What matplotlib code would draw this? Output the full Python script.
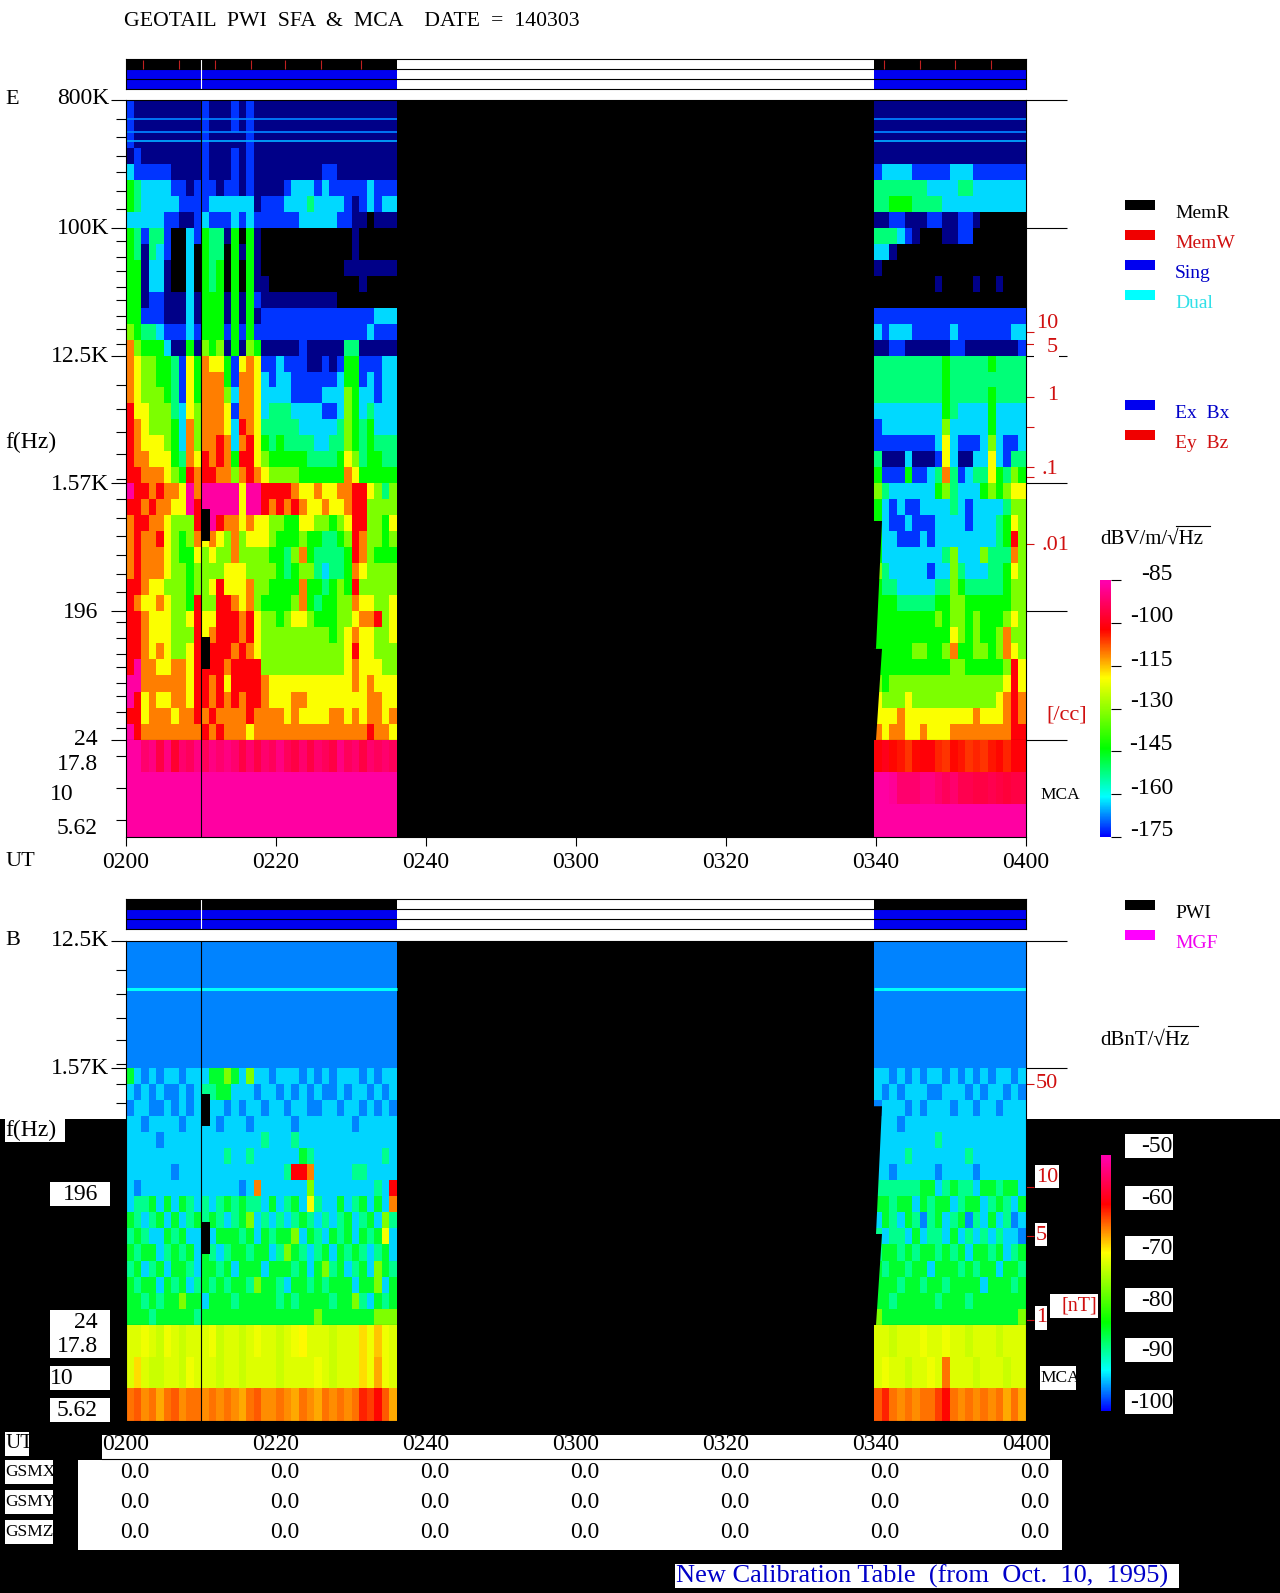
import numpy as np
import matplotlib
matplotlib.use("Agg")
import matplotlib.pyplot as plt
from matplotlib.colors import LinearSegmentedColormap, Normalize
from matplotlib.patches import Rectangle
from matplotlib.lines import Line2D

plt.rcParams['font.family'] = ['Liberation Serif', 'DejaVu Sans']

W, H = 1280, 1593

# ---------------- data -----------------------------------------------------
TIME_LABELS = ['0200', '0220', '0240', '0300', '0320', '0340', '0400']
TIME_TICKS = [0, 20, 40, 60, 80, 100, 120]
SEG_LEFT = (0.0, 36.1)
SEG_RIGHT = (99.75, 120.0)
E_BANDS = [800000, 100000, 12500, 1570, 196, 24]
B_BANDS = [12500, 1570, 196, 24]
MINOR_F = [587000, 439000, 322000, 248000, 183000, 136000,
           81000, 62400, 49700, 38300, 31000, 23900, 19400, 15200,
           7800, 5270, 3580, 2500, 1690,
           1210, 890, 662, 488, 358, 267,
           164, 126, 97.5, 79, 61, 49, 38, 29.3]
# colour level -> dB, for the two panels
E_LEVEL_DB = [-190, -182, -172, -163, -152, -144, -132, -120, -111, -102, -87]
B_LEVEL_DB = [-108, -104, -96, -93.5, -88, -84.5, -76, -69.5, -64.5, -59.5, -51]

E_L1 = [
 [2,1,1,1,1,1, 1,1,1,1,2,1, 1,1,2,1,2,1, 1,1,1,1,1,1, 1,1,1,1,1,1, 1,1,1,1,1,1],
 [2,1,1,1,1,1, 1,1,1,1,2,1, 1,1,2,1,2,1, 1,1,1,1,1,1, 1,1,1,1,1,1, 1,1,1,1,1,1],
 [2,1,1,1,1,1, 1,1,1,1,2,1, 1,1,1,1,2,1, 1,1,1,1,1,1, 1,1,1,1,1,1, 1,1,1,1,1,1],
 [1,2,1,1,1,1, 1,1,1,1,2,1, 1,1,2,1,2,1, 1,1,1,1,1,1, 1,1,1,1,1,1, 1,1,1,1,1,1],
 [3,2,2,2,2,2, 1,1,1,1,2,1, 1,1,2,1,2,1, 1,1,1,1,1,1, 1,1,2,2,1,1, 1,1,1,1,1,1],
 [5,4,3,3,3,3, 2,2,1,2,2,2, 1,2,2,1,2,1, 1,1,1,2,3,3, 3,2,3,2,2,2, 2,2,3,2,2,2],
 [5,4,3,3,3,3, 3,2,2,2,2,3, 3,3,3,3,3,1, 2,2,2,3,3,3, 4,3,3,3,3,2, 1,2,3,2,3,3],
 [3,3,3,3,3,2, 2,1,1,2,3,2, 2,2,3,2,3,2, 2,2,2,2,2,3, 3,3,3,3,2,2, 1,1,0,1,1,1],
]
E_L2 = [
 [5,4,2,4,4,2, 0,0,3,2,5,4, 4,1,5,0,5,1, 0,0,0,0,0,0, 0,0,0,0,0,0, 1,0,0,0,0,0],
 [5,4,1,4,3,2, 0,0,3,0,5,4, 4,0,5,1,5,1, 0,0,0,0,0,0, 0,0,0,0,0,0, 1,0,0,0,0,0],
 [5,5,1,3,3,1, 0,0,3,0,5,4, 5,0,5,0,5,1, 0,0,0,0,0,0, 0,0,0,0,0,1, 1,1,1,1,1,1],
 [5,5,1,3,3,1, 0,0,3,0,5,4, 5,0,5,0,5,1, 1,0,0,0,0,0, 0,0,0,0,0,0, 0,1,0,0,0,0],
 [5,5,1,2,2,1, 1,1,3,1,5,5, 5,1,5,1,5,2, 1,1,1,1,1,1, 1,1,1,1,0,0, 0,0,0,0,0,0],
 [5,5,2,2,2,1, 1,1,3,1,5,5, 5,1,5,1,5,1, 2,2,2,2,2,2, 2,2,2,2,2,2, 2,2,2,3,3,3],
 [6,5,4,4,3,2, 2,2,3,2,5,5, 5,2,5,2,5,2, 2,2,2,2,2,2, 2,2,2,2,2,2, 2,2,3,2,2,2],
 [8,6,5,5,5,3, 1,1,5,1,6,5, 6,1,5,1,6,5, 1,1,1,1,1,2, 1,1,1,1,1,4, 4,1,1,1,1,1],
]
E_L3 = [
 [8,7,6,6,5,5, 4,2,7,5,8,7, 7,5,2,7,8,7, 2,2,3,2,2,2, 1,1,2,1,2,5, 5,2,2,2,3,3],
 [8,7,6,6,5,5, 4,2,7,5,8,8, 8,5,2,8,8,7, 3,2,3,3,2,2, 2,2,2,2,3,5, 5,2,3,2,3,3],
 [8,7,6,6,6,5, 4,2,7,5,8,8, 8,6,3,8,8,7, 3,3,3,3,2,2, 2,2,3,3,3,6, 5,3,3,2,3,3],
 [9,7,7,6,6,6, 4,3,7,6,8,8, 8,7,2,8,8,7, 3,4,4,4,3,3, 3,3,2,2,3,6, 5,3,4,3,3,3],
 [9,8,7,6,6,6, 5,3,8,6,8,8, 8,7,3,9,8,7, 4,4,4,4,4,3, 3,3,3,3,4,6, 5,4,5,3,3,3],
 [9,8,7,7,7,6, 5,3,8,6,8,8, 9,8,3,8,9,7, 5,4,5,4,4,4, 4,3,3,4,4,6, 5,4,5,4,4,4],
 [9,8,8,7,7,7, 5,4,8,7,9,8, 9,8,5,9,9,7, 6,5,5,5,5,5, 4,4,4,4,5,7, 6,4,5,5,4,4],
 [9,9,8,8,8,7, 6,5,9,8,9,9, 8,8,6,8,9,8, 7,6,6,6,6,5, 5,5,5,5,5,8, 7,5,5,5,5,5],
]
E_L4 = [
 [10,9,9,8,9,8, 8,7,10,8,10,10, 10,10,10,7,10,10, 9,9,9,9,8,7, 7,8,7,7,8,8, 9,9,7,6,4,6],
 [9,9,8,9,8,8, 7,7,10,9,10,10, 10,10,10,7,10,10, 9,8,9,8,9,8, 7,7,8,7,7,8, 9,9,6,6,6,6],
 [8,9,9,8,8,7, 6,6,6,9,8,10, 9,8,8,7,8,7, 7,6,6,5,5,7, 7,6,6,5,6,7, 9,9,6,6,5,7],
 [8,9,8,8,9,7, 6,5,6,8,7,8, 7,6,8,6,7,7, 7,6,5,5,5,6, 5,5,4,4,5,6, 9,8,6,6,5,6],
 [8,9,8,8,8,7, 6,5,5,7,6,7, 6,6,8,6,6,6, 6,5,5,4,6,8, 5,4,4,4,4,5, 9,8,6,5,5,5],
 [8,9,8,8,8,7, 6,6,5,6,6,6, 6,7,7,7,6,6, 6,6,5,4,5,6, 6,4,3,4,4,5, 8,7,6,6,6,6],
 [9,9,8,7,7,6, 6,6,5,6,6,7, 9,7,7,7,8,6, 6,5,5,5,5,8, 5,5,4,5,6,5, 9,6,6,6,6,6],
 [9,8,7,7,8,7, 6,6,5,9,6,6, 9,9,8,7,8,6, 5,5,5,5,6,8, 5,4,5,5,6,6, 8,7,7,6,6,7],
]
E_L5 = [
 [9,9,8,7,7,7, 6,6,7,9,7,7, 9,9,9,8,9,7, 6,6,5,6,7,7, 6,5,5,5,6,6, 7,8,8,9,6,7],
 [9,9,8,7,7,7, 6,6,6,9,7,8, 9,9,9,8,9,7, 6,6,6,6,6,6, 6,6,6,5,6,7, 8,7,7,6,6,7],
 [9,9,8,7,8,7, 6,6,7,9,9,9, 9,9,8,9,8,7, 6,6,6,6,6,6, 6,6,6,6,6,7, 9,7,7,6,6,6],
 [9,10,8,8,7,7, 8,8,7,9,9,9, 9,8,9,9,9,9, 6,6,6,6,6,6, 6,6,6,6,6,7, 8,7,7,7,6,6],
 [10,10,8,8,8,8, 8,8,7,9,9,8, 9,7,9,9,9,9, 8,7,7,7,7,7, 7,7,7,7,7,7, 8,7,8,7,7,7],
 [10,9,7,8,7,7, 8,8,7,9,9,8, 9,8,9,8,9,9, 8,7,7,7,8,8, 7,7,7,7,7,7, 7,7,8,8,7,7],
 [9,9,7,8,8,8, 7,8,8,9,8,9, 8,8,8,8,9,8, 8,8,8,7,8,7, 7,7,7,8,8,7, 8,7,8,8,7,8],
 [10,9,8,8,8,8, 8,8,8,8,9,8, 9,8,8,8,7,8, 8,8,8,8,8,8, 8,8,8,8,8,8, 8,8,9,8,8,7],
]
E_R1 = [
 [1,1,1,1,1, 1,1,1,1,1, 1,1,1,1,1, 1,1,1,1,1],
 [1,1,1,1,1, 1,1,1,1,1, 1,1,1,1,1, 1,1,1,1,1],
 [1,1,1,1,1, 1,1,1,1,1, 1,1,1,1,1, 1,1,1,1,1],
 [1,1,1,1,1, 1,1,1,1,1, 1,1,1,1,1, 1,1,1,1,1],
 [2,3,3,3,3, 2,2,2,2,2, 3,3,3,2,2, 2,2,2,2,2],
 [4,4,4,4,4, 4,4,3,3,3, 3,4,4,3,3, 3,3,3,3,3],
 [4,4,5,5,5, 4,4,4,4,3, 3,3,3,3,3, 3,3,3,3,3],
 [1,1,2,2,1, 1,1,2,2,1, 1,2,2,1,0, 0,0,0,0,0],
]
E_R2 = [
 [4,4,4,3,2, 1,0,0,0,1, 1,2,2,0,0, 0,0,0,0,0],
 [3,3,1,0,0, 0,0,0,0,0, 0,0,0,0,0, 0,0,0,0,0],
 [1,0,0,0,0, 0,0,0,0,0, 0,0,0,0,0, 0,0,0,0,0],
 [0,0,0,0,0, 0,0,0,1,0, 0,0,0,1,0, 0,1,0,0,0],
 [0,0,0,0,0, 0,0,0,0,0, 0,0,0,0,0, 0,0,0,0,0],
 [2,2,2,2,2, 2,2,2,2,2, 2,2,2,2,2, 2,2,2,2,2],
 [3,2,3,3,3, 2,2,2,2,2, 3,2,2,2,2, 2,2,2,3,3],
 [1,1,2,2,1, 1,1,1,1,1, 2,2,1,1,1, 1,1,1,1,2],
]
E_R3 = [
 [4,4,4,4,4, 4,4,4,4,5, 4,4,4,4,4, 5,4,4,4,4],
 [4,4,4,4,4, 4,4,4,4,5, 4,4,4,4,4, 4,4,4,4,4],
 [4,4,4,4,4, 4,4,4,4,5, 4,4,4,4,4, 5,4,4,4,4],
 [3,3,3,3,3, 3,3,3,3,5, 4,3,3,3,3, 5,3,3,3,3],
 [2,3,3,3,3, 3,3,3,3,6, 3,3,3,3,3, 5,3,3,3,3],
 [2,2,2,2,2, 2,2,2,3,7, 3,2,2,2,3, 6,3,2,2,3],
 [4,1,1,1,3, 1,1,1,2,7, 3,1,1,3,3, 7,3,2,4,4],
 [5,2,2,2,5, 2,2,3,4,8, 4,2,3,4,4, 7,5,4,6,5],
]
E_R4 = [
 [6,4,3,3,3, 3,3,3,5,6, 4,3,3,3,5, 6,5,6,7,7],
 [5,3,2,3,2, 2,3,3,3,3, 4,3,2,3,3, 3,3,4,6,6],
 [5,3,2,2,3, 2,2,2,3,3, 3,3,2,3,3, 3,4,5,7,6],
 [5,3,3,2,2, 2,3,2,3,3, 3,3,3,3,3, 3,4,5,9,6],
 [5,3,3,3,3, 3,3,3,3,4, 6,3,3,3,6, 4,4,4,8,6],
 [6,4,3,3,3, 3,3,2,3,3, 6,4,3,3,3, 4,4,5,7,6],
 [5,4,4,3,3, 3,3,3,4,4, 6,5,4,4,4, 4,4,5,6,6],
 [5,5,5,4,4, 4,4,4,5,5, 6,6,5,5,5, 5,5,5,6,6],
]
E_R5 = [
 [5,5,5,5,5, 5,5,5,6,5, 6,6,5,6,5, 5,5,6,7,6],
 [5,5,5,5,5, 5,5,5,5,5, 7,6,5,6,5, 5,6,8,6,6],
 [5,5,5,5,5, 6,6,5,5,6, 8,5,5,6,6, 5,6,8,7,6],
 [5,5,5,5,5, 5,5,5,5,5, 6,6,5,5,5, 5,5,6,9,7],
 [6,5,6,6,6, 6,6,6,6,6, 6,6,6,6,6, 6,6,7,9,7],
 [7,6,6,6,7, 6,6,6,6,6, 6,6,6,6,6, 6,7,8,9,8],
 [7,7,7,8,7, 7,7,7,7,7, 7,7,7,8,7, 7,7,8,9,8],
 [8,7,8,8,7, 7,8,7,7,7, 8,8,8,8,8, 8,8,8,9,9],
]
E_MCA_L = [
 [-87,-87,-92,-90,-96,-90, -98,-92,-94,-90,-94,-90, -92,-90,-92,-96,-92,-96,
  -92,-94,-90,-94,-96,-92, -96,-92,-94,-96,-90,-94, -92,-96,-92,-94,-92,-94],
 [-87]*36,
 [-87]*36,
]
E_MCA_R = [
 [-102,-100,-103,-104,-106, -103,-102,-102,-105,-106, -103,-104,-106,-105,-106, -104,-103,-105,-102,-102],
 [-87,-87,-88,-92,-92, -92,-90,-90,-92,-94, -92,-95,-95,-96,-96, -95,-96,-97,-96,-96],
 [-87]*20,
]
B_TOP_LEVEL = [[2]]
B_L2 = [
 [5,3,2,3,2,3, 3,2,3,3,3,5, 5,6,5,3,6,3, 3,2,3,3,3,2, 3,2,3,2,3,3, 3,2,3,2,3,3],
 [3,2,3,2,3,2, 2,3,2,3,4,4, 5,5,3,3,3,2, 3,3,2,3,2,3, 2,3,2,2,3,2, 3,3,2,3,2,3],
 [2,3,3,2,2,3, 2,3,2,3,4,3, 3,2,3,2,3,3, 2,3,3,2,3,3, 2,2,3,3,2,3, 3,2,3,2,3,2],
 [3,3,2,3,3,3, 3,2,3,3,3,3, 2,3,3,3,2,3, 3,3,3,3,2,3, 3,3,3,3,3,3, 2,3,3,3,3,3],
 [3,3,3,3,2,3, 3,3,3,3,3,3, 3,3,3,3,3,3, 4,3,3,3,4,3, 3,3,3,3,3,3, 3,3,3,3,3,3],
 [3,3,3,3,3,3, 3,3,3,3,3,3, 3,4,3,3,4,3, 3,3,3,3,3,5, 4,3,3,3,3,3, 3,3,3,3,4,3],
 [3,3,3,3,3,3, 2,3,3,3,3,3, 3,3,3,3,3,3, 3,3,3,4,9,9, 8,3,3,3,3,3, 4,4,3,3,3,3],
 [3,2,3,3,3,3, 3,3,3,3,3,3, 3,3,3,2,3,8, 3,3,3,3,3,3, 6,3,3,3,3,3, 3,3,3,4,3,9],
]
B_L3 = [
 [3,4,4,5,3,5, 3,5,4,3,4,3, 4,5,4,5,4,4, 3,5,3,4,5,3, 7,4,3,3,5,3, 4,5,3,5,3,8],
 [5,4,3,4,5,3, 5,3,4,5,4,5, 4,3,4,5,6,3, 4,3,4,3,4,5, 4,3,4,3,4,5, 3,4,5,3,6,4],
 [4,5,4,3,3,5, 4,5,3,3,5,3, 5,5,5,4,5,3, 5,4,5,5,6,3, 5,4,3,5,4,5, 3,5,4,5,7,3],
 [5,4,5,5,3,4, 5,4,5,3,5,4, 3,4,5,5,4,5, 5,3,4,6,5,4, 3,4,5,3,5,4, 5,4,3,4,5,3],
 [4,5,3,4,5,3, 5,5,4,3,5,5, 4,5,3,5,5,5, 3,5,5,5,4,5, 3,5,6,4,5,3, 4,5,3,6,5,4],
 [5,4,5,5,3,5, 4,5,3,4,5,4, 5,4,5,5,4,6, 5,5,4,3,5,5, 4,5,4,5,5,5, 3,5,5,6,3,5],
 [5,5,4,5,4,5, 5,6,5,5,3,5, 5,5,4,5,5,5, 5,5,4,5,4,5, 5,5,5,4,5,5, 6,4,3,5,4,5],
 [5,5,5,4,5,5, 5,5,5,4,5,5, 5,5,5,5,5,5, 5,5,5,5,5,5, 5,6,5,5,5,5, 5,5,5,6,6,6],
]
B_R2 = [
 [3,3,2,3,2, 3,2,3,3,2, 3,2,3,2,3, 2,3,3,2,3],
 [3,2,3,2,3, 3,3,2,2,3, 3,3,2,3,2, 3,3,2,3,2],
 [2,3,3,3,2, 3,2,3,3,3, 2,3,3,2,3, 3,2,3,3,3],
 [3,3,3,2,3, 3,3,3,3,3, 3,3,3,3,3, 3,3,3,3,3],
 [3,3,3,3,3, 3,3,3,4,3, 3,3,3,3,3, 3,3,3,3,3],
 [3,3,3,3,4, 3,3,3,3,3, 3,3,4,3,3, 3,3,3,3,3],
 [3,3,2,3,3, 3,3,3,2,3, 3,3,3,2,3, 3,3,3,3,3],
 [4,4,4,4,4, 4,5,5,3,4, 5,4,4,3,5, 5,4,5,5,3],
]
B_R3 = [
 [5,5,4,5,5, 3,5,4,5,5, 3,4,5,5,3, 4,5,4,3,5],
 [3,5,4,3,5, 4,2,4,5,3, 4,5,2,4,3, 5,3,4,2,3],
 [4,3,4,4,3, 5,3,4,4,3, 5,3,4,3,4, 3,4,3,3,2],
 [4,5,5,4,5, 4,5,5,4,5, 4,5,3,5,5, 4,5,3,4,5],
 [5,4,5,5,4, 5,5,3,5,5, 5,4,5,4,5, 5,3,5,5,4],
 [5,5,5,4,5, 5,4,5,5,4, 5,5,5,5,3, 5,5,5,4,5],
 [5,5,4,5,5, 5,5,5,4,5, 5,5,4,5,5, 5,5,5,5,5],
 [6,5,5,5,5, 5,5,5,5,5, 5,5,5,5,5, 5,5,5,5,6],
]
B_MCA_L = [
 [-71,-71,-70,-71,-72,-70, -71,-72,-71,-71,-71,-70, -72,-71,-71,-72,-71,-70,
  -71,-71,-72,-71,-70,-69, -71,-71,-71,-72,-71,-71, -71,-68,-70,-67,-70,-71],
 [-71,-68,-71,-72,-72,-71, -71,-72,-70,-71,-71,-71, -72,-71,-71,-72,-71,-71,
  -71,-71,-72,-71,-71,-71, -71,-70,-71,-72,-71,-71, -71,-68,-70,-66,-70,-71],
 [-64,-63,-65,-64,-66,-64, -63,-65,-64,-64,-65,-64, -65,-64,-65,-66,-64,-63,
  -65,-65,-64,-65,-66,-64, -65,-66,-64,-65,-64,-65, -64,-61,-62,-60,-63,-66],
]
B_MCA_R = [
 [-71,-71,-72,-71,-71, -71,-70,-71,-71,-70, -71,-71,-72,-71,-71, -71,-72,-71,-71,-71],
 [-71,-70,-71,-71,-72, -71,-71,-70,-71,-64, -71,-71,-71,-72,-71, -71,-71,-72,-71,-71],
 [-63,-61,-64,-65,-64, -65,-64,-64,-62,-60, -64,-65,-64,-65,-64, -65,-64,-66,-64,-66],
]
MCA_EDGES = [23.7, 13.3, 7.5, 4.14]
E_LINES = [(587000, -168), (475000, -168), (411000, -166)]
B_LINES = [(5730, -92)]
# data gaps: (t0, t1, f_hi, f_lo) in minutes after 0200 and Hz
CAL_GAPS = [(10.0, 11.2, 1030, 612), (10.0, 11.2, 128.5, 76)]
# slanted gaps of the right-hand segment: (time, freq) corners
WEDGE_1 = ([99.7, 100.8, 100.0, 99.7], [847, 847, 105.7, 105.7])
WEDGE_2 = ([99.7, 100.8, 100.0, 99.7], [105.7, 105.7, 24, 24])
MEMW_TIMES = [2.3, 7.1, 11.9, 16.7, 21.2, 26.0, 31.3, 101.1, 105.9, 110.5, 115.3]
E_RED_F = [18480, 15180, 6400, 3940, 2025, 1720, 581]
B_RED_F = [1224, 226, 102, 26]
E_CBAR_TICKS = [-85, -100, -115, -130, -145, -160, -175]
B_CBAR_TICKS = [-50, -60, -70, -80, -90, -100]
GSM_VALUES = ['0.0'] * 7

# ---------------- scales ---------------------------------------------------
_anch = [(-190, (0, 0, 0)), (-175, (0, 0, 1)), (-161, (0, 1, 1)), (-144, (0, 1, 0)),
         (-119.5, (1, 1, 0)), (-102.5, (1, 0, 0)), (-86, (1, 0, .67)), (-85, (1, 0, .67))]
CMAP = LinearSegmentedColormap.from_list('pwi', [((d + 190) / 105, c) for d, c in _anch], N=512)
E_NORM = Normalize(-190, -85)
B_NORM = Normalize(-108.33, -50)

fig = plt.figure(figsize=(W / 100, H / 100), dpi=100, facecolor='white')


def axpx(x0, y0, x1, y1):
    return fig.add_axes([x0 / W, 1 - y1 / H, (x1 - x0) / W, (y1 - y0) / H])


def rect(x0, y0, x1, y1, color='white', z=-1):
    fig.add_artist(Rectangle((x0 / W, 1 - y1 / H), (x1 - x0) / W, (y1 - y0) / H,
                             transform=fig.transFigure, facecolor=color, edgecolor='none', zorder=z))


def txt(x, y, s, size=17, color='black', ha='left'):
    fig.text(x / W, 1 - (y + 2) / H, s, fontsize=size, color=color, ha=ha, va='center', zorder=5)


def hline(x0, x1, y, color='black'):
    fig.add_artist(Line2D([x0 / W, x1 / W], [1 - y / H, 1 - y / H], color=color, lw=0.8, zorder=4))


def mesh(ax, rows, f_hi, f_lo, seg, table, norm):
    z = np.asarray(table, dtype=float)[np.asarray(rows)]
    x = np.linspace(seg[0], seg[1], z.shape[1] + 1)
    y = np.geomspace(f_hi, f_lo, z.shape[0] + 1)
    ax.pcolormesh(x, y, z, cmap=CMAP, norm=norm, shading='flat')


def mca(ax, rows, seg, norm):
    z = np.asarray(rows, dtype=float)
    x = np.linspace(seg[0], seg[1], z.shape[1] + 1)
    ax.pcolormesh(x, MCA_EDGES, z, cmap=CMAP, norm=norm, shading='flat')


def base(ax, bottom=False):
    ax.set_facecolor('black')
    ax.set_xlim(0, 120)
    for s in ax.spines.values():
        s.set_linewidth(0.8)
        s.set_color('black')
    ax.set_yscale('log')
    ax.tick_params(axis='y', which='major', length=10.8, width=0.8, labelleft=False)
    ax.tick_params(axis='y', which='minor', length=7.2, width=0.8, labelleft=False)
    if bottom:
        ax.set_xticks(TIME_TICKS)
        ax.tick_params(axis='x', length=6.5, width=0.8, labelbottom=False)
    else:
        ax.set_xticks([])


def status(y0, ticks):
    ax = axpx(126, y0, 1026, y0 + 30)
    ax.set_xlim(0, 120)
    ax.set_ylim(3, 0)
    ax.set_facecolor('white')
    for seg in (SEG_LEFT, SEG_RIGHT):
        w = seg[1] - seg[0]
        ax.barh([0.5, 1.5, 2.5], [w, w, w], left=seg[0], height=1,
                color=['black', '#0000f0', '#0000f0'])
    ax.hlines([1, 2], 0, 120, color='black', lw=0.8)
    ax.vlines(ticks, 0.1, 1, color='#c02020', lw=0.8)
    ax.vlines([10], 0, 3, color='white', lw=0.8)
    ax.set_xticks([])
    ax.set_yticks([])
    for s in ax.spines.values():
        s.set_linewidth(0.8)


def cbar(x0, y0, x1, y1, lo, hi, ticks):
    ax = axpx(x0, y0, x1, y1)
    db = np.linspace(lo, hi, 257)
    norm = E_NORM if lo == -175 else B_NORM
    ax.pcolormesh([0, 1], db, db[:-1].reshape(-1, 1), cmap=CMAP, norm=norm, shading='flat')
    ax.set_ylim(lo, hi)
    ax.set_xticks([])
    ax.yaxis.tick_right()
    ax.set_yticks(ticks)
    ax.tick_params(axis='y', length=7, width=0.8, labelright=False)
    for s in ax.spines.values():
        s.set_visible(False)


# ---------------- background -----------------------------------------------
rect(0, 1119, W, H, 'black', -2)
rect(102, 1435, 1050, 1459, 'white')
rect(78, 1460, 1062, 1550, 'white')
hline(102, 1050, 1459)

# ---------------- panel E --------------------------------------------------
status(59, MEMW_TIMES)
ax = axpx(126, 100, 1026, 740)
base(ax)
for i, (l, r) in enumerate(zip((E_L1, E_L2, E_L3, E_L4, E_L5), (E_R1, E_R2, E_R3, E_R4, E_R5))):
    mesh(ax, l, E_BANDS[i], E_BANDS[i + 1], SEG_LEFT, E_LEVEL_DB, E_NORM)
    mesh(ax, r, E_BANDS[i], E_BANDS[i + 1], SEG_RIGHT, E_LEVEL_DB, E_NORM)
ax.set_ylim(24, 800000)
ax.set_yticks(E_BANDS)
ax.set_yticks(MINOR_F, minor=True)
ax.set_yticklabels([], minor=False)
ax.set_yticklabels([], minor=True)
for f, db in E_LINES:
    for seg in (SEG_LEFT, SEG_RIGHT):
        ax.hlines(f, seg[0], seg[1], color=CMAP(E_NORM(db)), lw=1.3)
for g in CAL_GAPS:
    ax.fill([g[0], g[1], g[1], g[0]], [g[2], g[2], g[3], g[3]], color='black', lw=0)
ax.fill(*WEDGE_1, color='black', lw=0)
ax.fill(*WEDGE_2, color='black', lw=0)
ax.axvline(10, color='black', lw=0.8)
tr = ax.get_yaxis_transform()
ax.hlines(E_BANDS, 1, 1 + 41 / 900, transform=tr, color='black', lw=0.8, clip_on=False)
ax.hlines(E_RED_F, 1, 1 + 8 / 900, transform=tr, color='#d01010', lw=0.8, clip_on=False)

ax = axpx(126, 740, 1026, 837)
base(ax, True)
mca(ax, E_MCA_L, SEG_LEFT, E_NORM)
mca(ax, E_MCA_R, SEG_RIGHT, E_NORM)
ax.set_ylim(4.14, 23.7)
ax.set_yticks([17.8, 10, 5.62])
ax.set_yticks([], minor=True)
ax.set_yticklabels([])
ax.tick_params(axis='y', which='major', length=7.2)
ax.axvline(10, color='black', lw=0.8)
ax.spines['top'].set_visible(False)

cbar(1100, 580, 1111, 837, -175, -85, E_CBAR_TICKS)

# ---------------- panel B --------------------------------------------------
status(899, [])
ax = axpx(126, 941, 1026, 1325)
base(ax)
for seg in (SEG_LEFT, SEG_RIGHT):
    mesh(ax, B_TOP_LEVEL, B_BANDS[0], B_BANDS[1], seg, B_LEVEL_DB, B_NORM)
for i, (l, r) in enumerate(zip((B_L2, B_L3), (B_R2, B_R3))):
    mesh(ax, l, B_BANDS[i + 1], B_BANDS[i + 2], SEG_LEFT, B_LEVEL_DB, B_NORM)
    mesh(ax, r, B_BANDS[i + 1], B_BANDS[i + 2], SEG_RIGHT, B_LEVEL_DB, B_NORM)
ax.set_ylim(24, 12500)
ax.set_yticks(B_BANDS)
ax.set_yticks([m for m in MINOR_F if m < 12500], minor=True)
ax.set_yticklabels([], minor=False)
ax.set_yticklabels([], minor=True)
for f, db in B_LINES:
    for seg in (SEG_LEFT, SEG_RIGHT):
        ax.hlines(f, seg[0], seg[1], color=CMAP(B_NORM(db)), lw=2.2)
for g in CAL_GAPS:
    ax.fill([g[0], g[1], g[1], g[0]], [g[2], g[2], g[3], g[3]], color='black', lw=0)
ax.fill(*WEDGE_1, color='black', lw=0)
ax.fill(*WEDGE_2, color='black', lw=0)
ax.axvline(10, color='black', lw=0.8)
tr = ax.get_yaxis_transform()
ax.hlines(B_BANDS, 1, 1 + 41 / 900, transform=tr, color='black', lw=0.8, clip_on=False)
ax.hlines(B_RED_F, 1, 1 + 8 / 900, transform=tr, color='#d01010', lw=0.8, clip_on=False)

ax = axpx(126, 1325, 1026, 1421)
base(ax, True)
mca(ax, B_MCA_L, SEG_LEFT, B_NORM)
mca(ax, B_MCA_R, SEG_RIGHT, B_NORM)
ax.set_ylim(4.14, 23.7)
ax.set_yticks([])
ax.set_yticks([], minor=True)
ax.axvline(10, color='black', lw=0.8)
ax.spines['top'].set_visible(False)

cbar(1101, 1155, 1111, 1411, -100, -50, B_CBAR_TICKS)

# ---------------- text -----------------------------------------------------
txt(124, 20, 'GEOTAIL  PWI  SFA  &  MCA    DATE  =  140303', 15.7)
txt(5, 97, 'E', 16)
for y, s in zip((97, 226, 354, 482), ('800K', '100K', '12.5K', '1.57K')):
    txt(109, y, s, 17, ha='right')
for y, s in zip((610, 738, 763, 826), ('196', '24', '17.8', '5.62')):
    txt(98, y, s, 17, ha='right')
txt(50, 793, '10', 17)
txt(5, 440, 'f(Hz)', 17)
txt(5, 860, 'UT', 16)
for t, s in zip(TIME_TICKS, TIME_LABELS):
    txt(126 + 7.5 * t, 860, s, 17, ha='center')

RED = '#d01010'
for x, y, s in ((1058, 322, '10'), (1058, 345, '5'), (1058, 394, '1'), (1058, 467, '.1'),
                (1069, 543, '.01'), (1087, 713, '[/cc]')):
    if s == '5':
        rect(1034, 334, 1059, 358, 'white', 3)
    txt(x, y, s, 16, RED, 'right')
txt(1040, 793, 'MCA', 12.5)
txt(1100, 537, 'dBV/m/√Hz', 15)
hline(1176, 1210, 526)
for y, s in zip((572, 614, 658, 700, 742, 786, 828), E_CBAR_TICKS):
    txt(1173, y, str(s), 17, ha='right')

# legends
for y, c, s, tc in ((200, 'black', 'MemR', 'black'), (230, '#f00000', 'MemW', '#d01010'),
                    (260, '#0000f0', 'Sing', '#0000c8'), (290, '#00ffff', 'Dual', '#30e0e8')):
    rect(1125, y, 1155, y + 10, c, 3)
    txt(1175, y + 12, s, 14, tc)
for y, c, s, tc in ((400, '#0000f0', 'Ex  Bx', '#0000c8'), (430, '#f00000', 'Ey  Bz', '#d01010')):
    rect(1125, y, 1155, y + 10, c, 3)
    txt(1175, y + 12, s, 14, tc)
for y, c, s, tc in ((900, 'black', 'PWI', 'black'), (930, '#ff00ff', 'MGF', '#f000f0')):
    rect(1125, y, 1155, y + 10, c, 3)
    txt(1175, y + 12, s, 14, tc)

# panel B text
txt(5, 938, 'B', 16)
txt(109, 938, '12.5K', 17, ha='right')
txt(109, 1066, '1.57K', 17, ha='right')
txt(1058, 1082, '50', 16, RED, 'right')
txt(1100, 1038, 'dBnT/√Hz', 15)
hline(1168, 1198, 1026)

for box, x, y, s, ha in (((5, 1119, 65, 1142), 5, 1128, 'f(Hz)', 'left'),
                         ((50, 1182, 110, 1206), 98, 1192, '196', 'right'),
                         ((50, 1310, 110, 1358), 98, 1320, '24', 'right'),
                         ((50, 1366, 110, 1390), 50, 1376, '10', 'left'),
                         ((50, 1398, 110, 1422), 98, 1408, '5.62', 'right')):
    rect(*box, 'white', 3)
    txt(x, y, s, 17, ha=ha)
txt(98, 1344, '17.8', 17, ha='right')
for box, x, y, s in (((1035, 1165, 1059, 1188), 1058, 1175, '10'),
                     ((1035, 1223, 1047, 1246), 1047, 1233, '5'),
                     ((1035, 1306, 1047, 1330), 1047, 1316, '1'),
                     ((1050, 1294, 1098, 1318), 1097, 1304, '[nT]')):
    rect(*box, 'white', 3)
    txt(x, y, s, 16 if s != '[nT]' else 14.5, RED, 'right')
rect(1040, 1366, 1076, 1390, 'white', 3)
txt(1040, 1376, 'MCA', 12.5)
for y, s in zip((1146, 1198, 1248, 1300, 1350, 1402), B_CBAR_TICKS):
    rect(1125, y - 12, 1173, y + 12, 'white', 3)
    txt(1173, y - 2, str(s), 17, ha='right')

# lower table
rect(5, 1432, 29, 1456, 'white', 3)
txt(5, 1442, 'UT', 15)
for t, s in zip(TIME_TICKS, TIME_LABELS):
    txt(126 + 7.5 * t, 1442, s, 17, ha='center')
for y, s in zip((1472, 1502, 1532), ('GSMX', 'GSMY', 'GSMZ')):
    rect(5, y - 12, 53, y + 12, 'white', 3)
    txt(5, y - 2, s, 12.5)
    for t, v in zip(TIME_TICKS, GSM_VALUES):
        txt(135 + 7.5 * t, y - 2, v, 17, ha='center')
rect(675, 1564, 1179, 1588, 'white', 3)
txt(676, 1574, 'New Calibration Table  (from  Oct.  10,  1995)', 19, '#0000c8')

fig.savefig('out.png', dpi=100, facecolor='white')
